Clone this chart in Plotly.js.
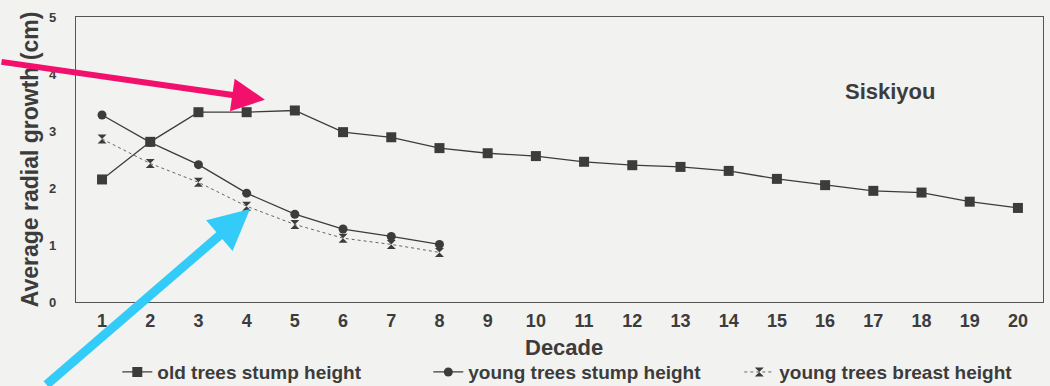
<!DOCTYPE html>
<html>
<head>
<meta charset="utf-8">
<script src="https://cdn.plot.ly/plotly-3.0.1.min.js"></script>
<style>
  html, body { margin: 0; padding: 0; background: #f2f2f0; }
  #chart { width: 1050px; height: 386px; }
</style>
</head>
<body>
<div id="chart"></div>
<script>
const decades = [1,2,3,4,5,6,7,8,9,10,11,12,13,14,15,16,17,18,19,20];
const oldStump = [2.15,2.81,3.33,3.33,3.36,2.98,2.89,2.70,2.61,2.56,2.46,2.40,2.37,2.30,2.16,2.05,1.95,1.92,1.76,1.65];
const youngDecades = [1,2,3,4,5,6,7,8];
const youngStump = [3.28,2.80,2.41,1.91,1.54,1.28,1.15,1.01];
const youngBreast = [2.86,2.43,2.10,1.68,1.36,1.12,1.01,0.87];
const seriesNames = ['old trees stump height','young trees stump height','young trees breast height'];

const ink = '#3c3c3c';
const font = 'Liberation Sans, Arial, sans-serif';

const traces = [
  {x: decades, y: oldStump, name: seriesNames[0], mode: 'lines+markers',
   line: {color: ink, width: 1.3}, marker: {symbol: 'square', size: 10, color: ink}},
  {x: youngDecades, y: youngStump, name: seriesNames[1], mode: 'lines+markers',
   line: {color: ink, width: 1.3}, marker: {symbol: 'circle', size: 9, color: ink}},
  {x: youngDecades, y: youngBreast, name: seriesNames[2], mode: 'lines+markers',
   line: {color: '#666', width: 1, dash: 'dot'}, marker: {symbol: 'hourglass', size: 9, color: ink}}
];

const layout = {
  width: 1050, height: 386,
  margin: {l: 76, r: 7, t: 17, b: 84, autoexpand: false},
  paper_bgcolor: '#f2f2f0', plot_bgcolor: '#f2f2f0',
  font: {family: font, color: ink},
  showlegend: true,
  legend: {orientation: 'h', x: 0.556, xanchor: 'center', xref: 'container',
           y: 0.036, yanchor: 'middle', yref: 'container', entrywidth: 266,
           font: {family: font, size: 19, color: ink, weight: 'bold'}, bgcolor: 'rgba(0,0,0,0)'},
  xaxis: {range: [0.46, 20.52], tickvals: decades, ticks: '', showgrid: false, zeroline: false,
          showline: true, linecolor: '#555', linewidth: 1.2, mirror: true,
          tickfont: {family: font, size: 18, color: ink, weight: 'bold'}, ticklabelstandoff: 2},
  yaxis: {range: [0, 5], tickvals: [0,1,2,3,4,5], ticks: '', showgrid: false, zeroline: false,
          showline: true, linecolor: '#555', linewidth: 1.2, mirror: true,
          tickfont: {family: font, size: 13, color: ink, weight: 'bold'}, ticklabelstandoff: 16,
          title: {text: 'Average radial growth (cm)', font: {family: font, size: 23, color: ink, weight: 'bold'}, standoff: 4}},
  annotations: [
    {x: 0.505, y: -0.158, xref: 'paper', yref: 'paper', yanchor: 'middle', text: 'Decade', showarrow: false,
     font: {family: font, size: 22, color: ink, weight: 'bold'}},
    {x: 17.35, y: 3.69, xref: 'x', yref: 'y', text: 'Siskiyou', showarrow: false,
     font: {family: font, size: 22, color: ink, weight: 'bold'}},
    {x: 4.38, y: 3.55, xref: 'x', yref: 'y', ax: -268, ay: -38, text: '', showarrow: true,
     arrowcolor: '#f2106c', arrowwidth: 6, arrowhead: 2, arrowsize: 1.1},
    {x: 4.07, y: 1.63, xref: 'x', yref: 'y', ax: -205, ay: 180, text: '', showarrow: true,
     arrowcolor: '#33ccf8', arrowwidth: 9, arrowhead: 2, arrowsize: 0.9}
  ]
};

Plotly.newPlot('chart', traces, layout, {displayModeBar: false, staticPlot: true});
</script>
</body>
</html>
